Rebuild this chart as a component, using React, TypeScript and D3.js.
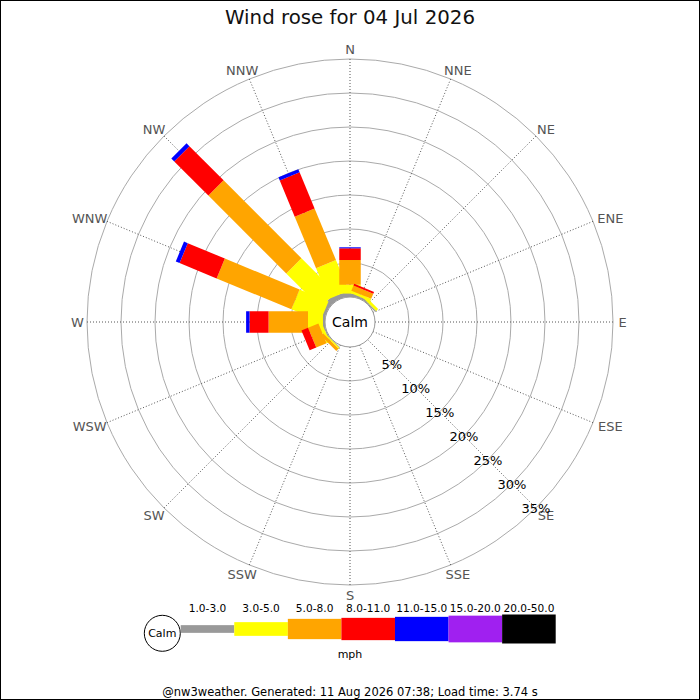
import React from 'react';
import * as d3 from 'd3';

// wind directions, clockwise from north
const directions = ['N', 'NNE', 'NE', 'ENE', 'E', 'ESE', 'SE', 'SSE', 'S', 'SSW', 'SW', 'WSW', 'W', 'WNW', 'NW', 'NNW'];

// speed bins (mph)
const speedBins = ['1.0-3.0', '3.0-5.0', '5.0-8.0', '8.0-11.0', '11.0-15.0', '15.0-20.0', '20.0-50.0'];

// % of time per direction, one array per speed bin
const speed1to3 = [0.5, 0.3, 0.2, 0, 0, 0, 0, 0, 0, 0, 0.1, 0.2, 0.3, 0.4, 0.9, 0.65];
const speed3to5 = [1.3, 0.36, 0.4, 0, 0, 0, 0, 0, 0, 0, 0.2, 0.5, 2.2, 4.6, 7.1, 4.9];
const speed5to8 = [3.64, 0.8, 0, 0, 0, 0, 0, 0, 0, 0, 0.45, 1.65, 5.8, 11.9, 16.2, 8.2];
const speed8to11 = [1.72, 0.3, 0, 0, 0, 0, 0, 0, 0, 0, 0, 1.05, 2.8, 5.9, 7.1, 5.75];
const speed11to15 = [0.15, 0, 0, 0, 0, 0, 0, 0, 0, 0, 0, 0, 0.5, 0.6, 0.6, 0.5];
const speed15to20 = [0, 0, 0, 0, 0, 0, 0, 0, 0, 0, 0, 0, 0, 0, 0, 0];
const speed20to50 = [0, 0, 0, 0, 0, 0, 0, 0, 0, 0, 0, 0, 0, 0, 0, 0];

const ringTicks = [5, 10, 15, 20, 25, 30, 35];

const title = 'Wind rose for 04 Jul 2026';
const footer = '@nw3weather. Generated: 11 Aug 2026 07:38; Load time: 3.74 s';

const binColors = ['#999999', '#ffff00', '#ffa500', '#ff0000', '#0000ff', '#a020f0', '#000000'];
const legendHeights = [7.7, 13.7, 20.3, 22.3, 24.3, 26.7, 29];

const W = 700;
const H = 700;
const cx = 350;
const cy = 322;
const calmR = 25;
const outerR = 263;
const barWidth = 21.5;
const font = 'DejaVu Sans, sans-serif';

const series = [speed1to3, speed3to5, speed5to8, speed8to11, speed11to15, speed15to20, speed20to50];

export default function App() {
  const r = d3.scaleLinear().domain([0, 35]).range([calmR, outerR]);
  const angle = d3.scaleBand<string>().domain(directions).range([0, 360]);

  const rows = directions.map((d, i) => {
    const row: Record<string, any> = { dir: d };
    speedBins.forEach((b, j) => (row[b] = series[j][i]));
    return row;
  });
  const stacked = d3.stack<Record<string, any>>().keys(speedBins)(rows);

  const legendX = d3.scaleBand<string>().domain(speedBins).range([180.7, 555.7]);
  const legendY = 629;

  const rad = (deg: number) => (deg * Math.PI) / 180;

  return (
    <svg
      width={W}
      height={H}
      viewBox={`0 0 ${W} ${H}`}
      style={{ position: 'absolute', left: 0, top: 0, background: '#fff' }}
      fontFamily={font}
    >
      <rect x={0.5} y={0.5} width={W - 1} height={H - 1} fill="#fff" stroke="#000" />

      <text x={cx} y={24} textAnchor="middle" fontSize={19.8} fill="#111">{title}</text>

      <g transform={`translate(${cx},${cy})`}>
        {ringTicks.map(t => (
          <circle key={t} r={r(t)} fill="none" stroke="#aaa" strokeWidth={1} />
        ))}
        {directions.map(d => {
          const a = rad(angle(d)!);
          return (
            <line
              key={d}
              x1={calmR * Math.sin(a)}
              y1={-calmR * Math.cos(a)}
              x2={outerR * Math.sin(a)}
              y2={-outerR * Math.cos(a)}
              stroke="#555"
              strokeWidth={1}
              strokeDasharray="1,2"
            />
          );
        })}

        {stacked.map((layer, j) => (
          <g key={layer.key} fill={binColors[j]}>
            {layer.map((seg, i) => {
              if (seg[1] - seg[0] <= 0) return null;
              const deg = angle(directions[i])!;
              return (
                <rect
                  key={i}
                  x={-barWidth / 2}
                  y={-r(seg[1])}
                  width={barWidth}
                  height={r(seg[1]) - r(seg[0])}
                  transform={`rotate(${deg})`}
                />
              );
            })}
          </g>
        ))}

        <circle r={calmR} fill="#fff" stroke="#999" strokeWidth={1} />
        <text x={0} y={5} textAnchor="middle" fontSize={14} fill="#000">Calm</text>

        {directions.map(d => {
          const a = rad(angle(d)!);
          const hw = d.length * 4.6;
          const hh = 5;
          const x = 268 * Math.sin(a) + hw * Math.sin(a);
          const y = -268 * Math.cos(a) - hh * Math.cos(a);
          return (
            <text key={d} x={x} y={y + 5} textAnchor="middle" fontSize={13} fill="#555">{d}</text>
          );
        })}

        {ringTicks.map(t => {
          const a = rad(135);
          return (
            <text
              key={t}
              x={r(t) * Math.sin(a)}
              y={-r(t) * Math.cos(a) + 5}
              textAnchor="middle"
              fontSize={13}
              fill="#000"
            >{`${t}%`}</text>
          );
        })}
      </g>

      <g>
        <circle cx={162.3} cy={633.3} r={18} fill="#fff" stroke="#000" strokeWidth={1} />
        <text x={162.3} y={637.3} textAnchor="middle" fontSize={11} fill="#000">Calm</text>
        {speedBins.map((b, j) => (
          <g key={b}>
            <rect
              x={legendX(b)!}
              y={legendY - legendHeights[j] / 2}
              width={legendX.bandwidth()}
              height={legendHeights[j]}
              fill={binColors[j]}
            />
            <text
              x={legendX(b)! + legendX.bandwidth() / 2}
              y={611.5}
              textAnchor="middle"
              fontSize={10.6}
              fill="#000"
            >{b}</text>
          </g>
        ))}
        <text x={350} y={657.5} textAnchor="middle" fontSize={11} fill="#000">mph</text>
      </g>

      <text x={350} y={696} textAnchor="middle" fontSize={11.5} fill="#000">{footer}</text>
    </svg>
  );
}
